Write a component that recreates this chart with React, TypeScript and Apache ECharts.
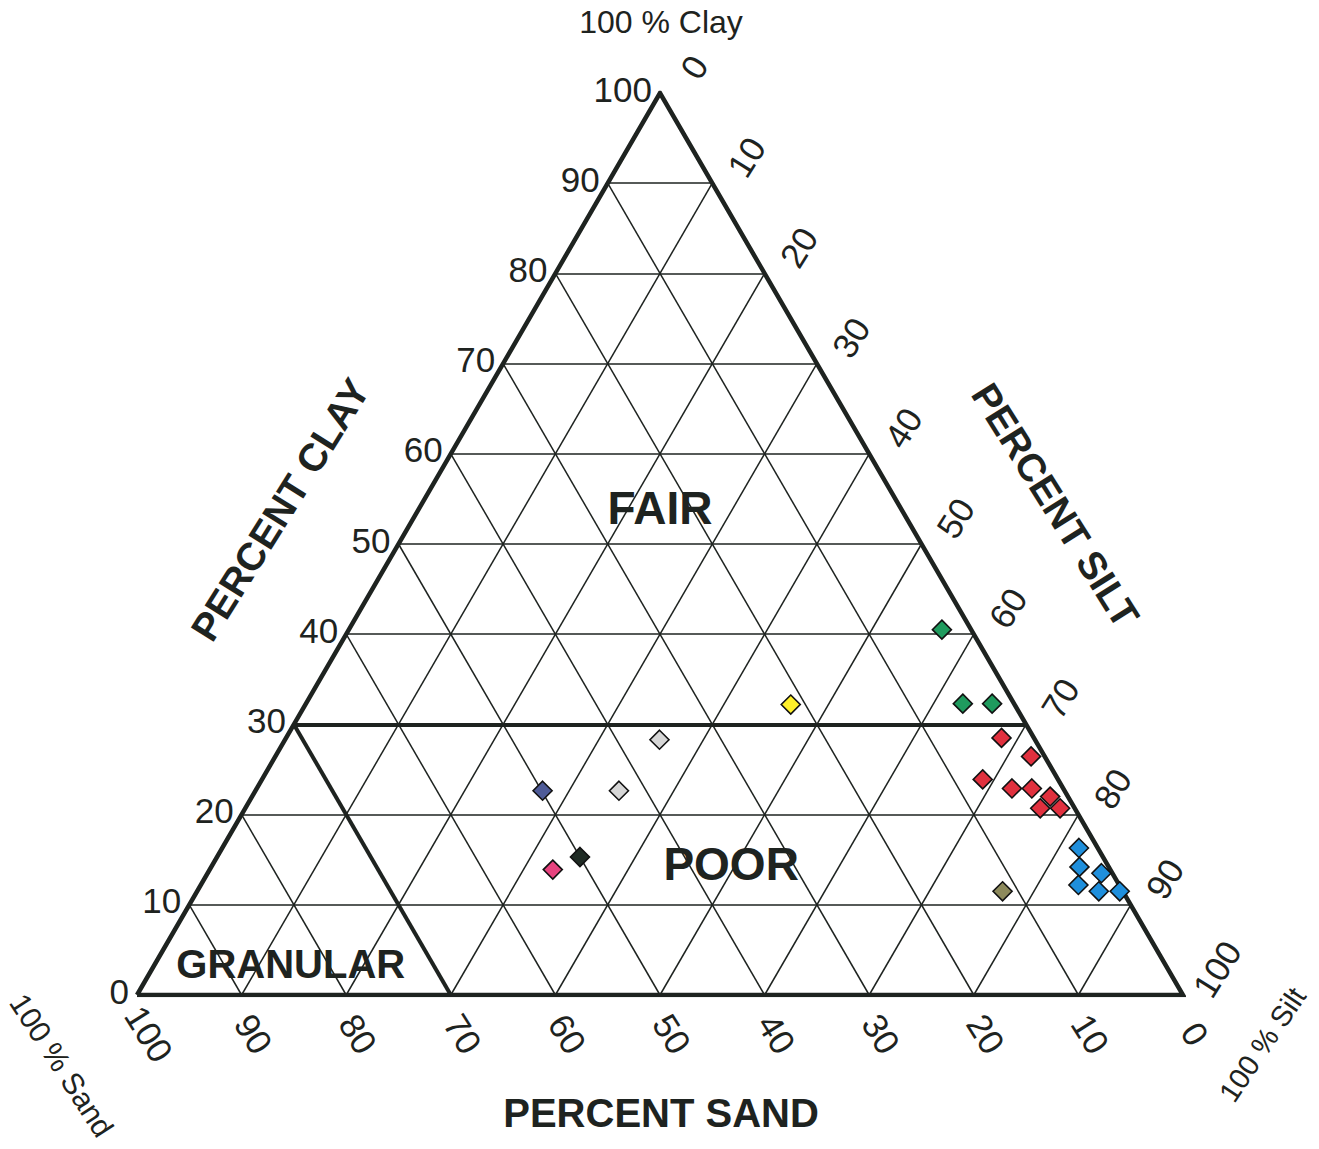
import React, { useEffect, useRef } from "react";
import * as echarts from "echarts";

// Tick values (percent) on each of the three axes
const tickValues = [0, 10, 20, 30, 40, 50, 60, 70, 80, 90, 100];
const clayTickLabels = ["0", "10", "20", "30", "40", "50", "60", "70", "80", "90", "100"];
const siltTickLabels = ["0", "10", "20", "30", "40", "50", "60", "70", "80", "90", "100"];
const sandTickLabels = ["0", "10", "20", "30", "40", "50", "60", "70", "80", "90", "100"];

// Class boundaries
const fairPoorClay = 30; // clay >= 30 : FAIR
const granularSand = 70; // sand >= 70 (clay < 30): GRANULAR

// Samples: [sand, silt, clay] in percent
const greenPts = [
  [2.8, 56.7, 40.5],
  [4.9, 62.8, 32.3],
  [2.1, 65.6, 32.3],
];
const yellowPts = [[21.4, 46.4, 32.2]];
const grayPts = [
  [35.9, 35.8, 28.3],
  [42.6, 34.75, 22.65],
];
const navyPts = [[49.9, 27.45, 22.65]];
const blackPts = [[50.0, 34.7, 15.3]];
const pinkPts = [[53.3, 32.8, 13.9]];
const redPts = [
  [3.1, 68.4, 28.5],
  [1.3, 72.25, 26.45],
  [7.2, 68.9, 23.9],
  [4.9, 72.2, 22.9],
  [3.0, 74.1, 22.9],
  [1.7, 76.3, 22.0],
  [3.3, 76.0, 20.7],
  [1.4, 77.9, 20.7],
];
const bluePts = [
  [1.8, 81.9, 16.3],
  [2.8, 83.0, 14.2],
  [1.05, 85.45, 13.5],
  [3.9, 83.9, 12.2],
  [2.3, 86.2, 11.5],
  [0.3, 88.2, 11.5],
];
const olivePts = [[11.5, 77.0, 11.5]];

const groups = [
  { name: "green", pts: greenPts, color: "#1f9b5e" },
  { name: "yellow", pts: yellowPts, color: "#fff02a" },
  { name: "gray", pts: grayPts, color: "#d6d6d6" },
  { name: "navy", pts: navyPts, color: "#4e5b98" },
  { name: "black", pts: blackPts, color: "#1f2b24" },
  { name: "pink", pts: pinkPts, color: "#e8437f" },
  { name: "red", pts: redPts, color: "#e0303e" },
  { name: "blue", pts: bluePts, color: "#1f8fdc" },
  { name: "olive", pts: olivePts, color: "#8d8a5c" },
];

const FONT = "'Liberation Sans', Arial, Helvetica, sans-serif";
const INK = "#1e2320";

// ternary -> cartesian (x in 0..100, y = clay)
function tern(sand: number, silt: number, clay: number): number[] {
  const s = sand + silt + clay;
  const si = (silt / s) * 100;
  const c = (clay / s) * 100;
  return [si + c / 2, c];
}

export default function App() {
  const ref = useRef<HTMLDivElement>(null);

  useEffect(() => {
    if (!ref.current) return;
    const chart = echarts.init(ref.current, undefined, { renderer: "svg" });

    const thin: any[] = [];
    const thick: any[] = [];
    for (const v of tickValues) {
      if (v === 0 || v === 100) continue;
      // clay = v (horizontal)
      const a = { coords: [tern(100 - v, 0, v), tern(0, 100 - v, v)] };
      (v === fairPoorClay ? thick : thin).push(a);
      // silt = v
      thin.push({ coords: [tern(100 - v, v, 0), tern(0, v, 100 - v)] });
      // sand = v
      const b = { coords: [tern(v, 100 - v, 0), tern(v, 0, 100 - v)] };
      (v === granularSand ? thick : thin).push(b);
    }
    const outline = [
      tern(100, 0, 0),
      tern(0, 100, 0),
      tern(0, 0, 100),
      tern(100, 0, 0),
    ];

    const series: any[] = [
      {
        type: "lines",
        coordinateSystem: "cartesian2d",
        silent: true,
        data: thin,
        lineStyle: { color: INK, width: 1.5, opacity: 1 },
        z: 1,
      },
      {
        type: "lines",
        coordinateSystem: "cartesian2d",
        silent: true,
        data: thick,
        lineStyle: { color: INK, width: 4, opacity: 1 },
        z: 2,
      },
      {
        type: "line",
        data: outline,
        symbol: "none",
        silent: true,
        lineStyle: { color: INK, width: 4.5, join: "miter" },
        z: 3,
      },
      ...groups.map((g) => ({
        type: "scatter",
        name: g.name,
        data: g.pts.map((p) => tern(p[0], p[1], p[2])),
        symbol: "diamond",
        symbolSize: 19,
        itemStyle: { color: g.color, borderColor: "#111", borderWidth: 1.6, opacity: 1 },
        z: 5,
      })),
    ];

    chart.setOption({
      animation: false,
      backgroundColor: "#ffffff",
      grid: { left: 137, right: 136, top: 93, bottom: 154, containLabel: false },
      xAxis: { type: "value", min: 0, max: 100, show: false },
      yAxis: { type: "value", min: 0, max: 100, show: false },
      series,
    });

    const px = (xy: number[]) => chart.convertToPixel({ gridIndex: 0 }, xy) as number[];
    const deg = Math.PI / 180;
    const txt = (
      p: number[],
      text: string,
      size: number,
      opts: { rot?: number; bold?: boolean; align?: string; dx?: number; dy?: number } = {}
    ) => ({
      type: "text",
      x: p[0] + (opts.dx || 0),
      y: p[1] + (opts.dy || 0),
      rotation: (opts.rot || 0) * deg,
      z: 10,
      style: {
        text,
        fontSize: size,
        fontFamily: FONT,
        fontWeight: opts.bold ? "bold" : "normal",
        fill: INK,
        align: opts.align || "center",
        verticalAlign: "middle",
      },
    });

    const graphics: any[] = [];
    tickValues.forEach((v, i) => {
      // clay labels on the left edge
      graphics.push(txt(px(tern(100 - v, 0, v)), clayTickLabels[i], 35, { align: "right", dx: -8, dy: -4 }));
      // silt labels on the right edge
      graphics.push(txt(px(tern(0, v, 100 - v)), siltTickLabels[i], 35, { rot: 58, dx: 34, dy: -26 }));
      // sand labels on the bottom edge
      graphics.push(txt(px(tern(v, 100 - v, 0)), sandTickLabels[i], 35, { rot: -58, dx: 12, dy: 39 }));
    });

    graphics.push(txt(px([50.1, 107.9]), "100 % Clay", 32));
    graphics.push(txt(px([107.6, -5.5]), "100 % Silt", 29, { rot: 56 }));
    graphics.push(txt(px([-7.2, -7.8]), "100 % Sand", 30, { rot: -57 }));

    graphics.push(txt(px([13.7, 53.8]), "PERCENT CLAY", 39, { rot: 58, bold: true }));
    graphics.push(txt(px([87.8, 54.3]), "PERCENT SILT", 39, { rot: -58, bold: true }));
    graphics.push(txt(px([50.1, -13.1]), "PERCENT SAND", 40, { bold: true }));

    graphics.push(txt(px([50, 54]), "FAIR", 46, { bold: true }));
    graphics.push(txt(px([56.8, 14.5]), "POOR", 46, { bold: true }));
    graphics.push(txt(px([14.7, 3.4]), "GRANULAR", 40, { bold: true }));

    chart.setOption({ graphic: graphics });

    return () => chart.dispose();
  }, []);

  return (
    <div
      ref={ref}
      style={{ position: "fixed", left: 0, top: 0, width: 1319, height: 1149, background: "#fff" }}
    />
  );
}
